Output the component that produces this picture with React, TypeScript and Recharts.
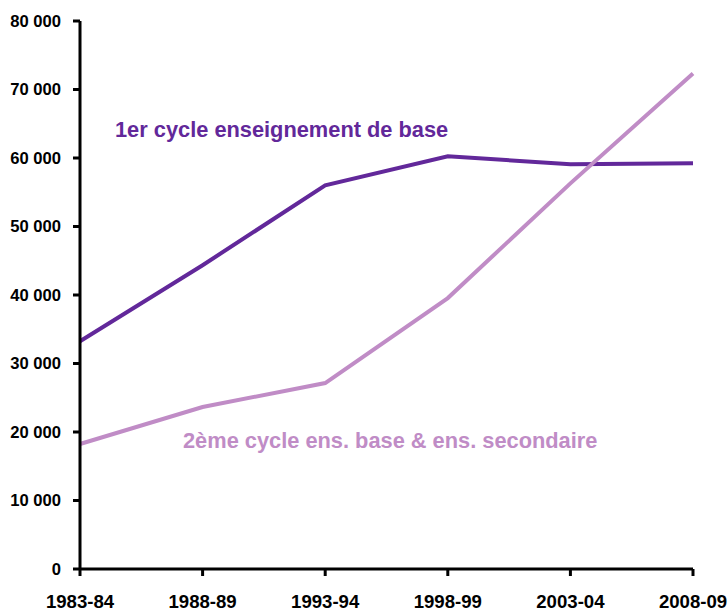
import React from 'react';
import { LineChart, Line, XAxis, YAxis, Customized } from 'recharts';

const years = ['1983-84', '1988-89', '1993-94', '1998-99', '2003-04', '2008-09'];
const premierCycle = [33250, 44350, 56000, 60250, 59100, 59250];
const secondCycle = [18250, 23650, 27150, 39550, 56300, 72350];
const yTicks = [0, 10000, 20000, 30000, 40000, 50000, 60000, 70000, 80000];

const DARK = '#62289a';
const LIGHT = '#c08cc6';
const FONT = '"Liberation Sans", Arial, sans-serif';

const data = years.map((year, i) => ({
  year,
  premier: premierCycle[i],
  second: secondCycle[i],
}));

const fmt = (v: number) => (v === 0 ? '0' : `${Math.floor(v / 1000)} 000`);

const Annotations = () => (
  <g style={{ fontFamily: FONT, fontWeight: 'bold', fontSize: 21.8 }}>
    <text x={115} y={137} fill={DARK}>1er cycle enseignement de base</text>
    <text x={183} y={448} fill={LIGHT}>2ème cycle ens. base &amp; ens. secondaire</text>
  </g>
);

const App = () => {
  const yTick = { fill: '#000', fontSize: 16.6, fontWeight: 'bold', fontFamily: FONT };
  const xTick = { fill: '#000', fontSize: 18.6, fontWeight: 'bold', fontFamily: FONT };
  return (
    <div style={{ position: 'absolute', left: 0, top: 0, background: '#fff' }}>
      <LineChart width={728} height={609} data={data} margin={{ top: 21, right: 35, bottom: 0, left: 0 }}>
        <XAxis
          dataKey="year"
          height={40}
          tick={xTick}
          tickSize={7}
          tickMargin={19}
          stroke="#000"
          strokeWidth={3}
          interval={0}
        />
        <YAxis
          width={80}
          domain={[0, 80000]}
          ticks={yTicks}
          tickFormatter={fmt}
          tick={yTick}
          tickSize={7}
          tickMargin={12}
          stroke="#000"
          strokeWidth={3}
          interval={0}
        />
        <Line dataKey="premier" stroke={DARK} strokeWidth={4} dot={false} isAnimationActive={false} />
        <Line dataKey="second" stroke={LIGHT} strokeWidth={4} dot={false} isAnimationActive={false} />
        <Customized component={Annotations} />
      </LineChart>
    </div>
  );
};

export default App;
